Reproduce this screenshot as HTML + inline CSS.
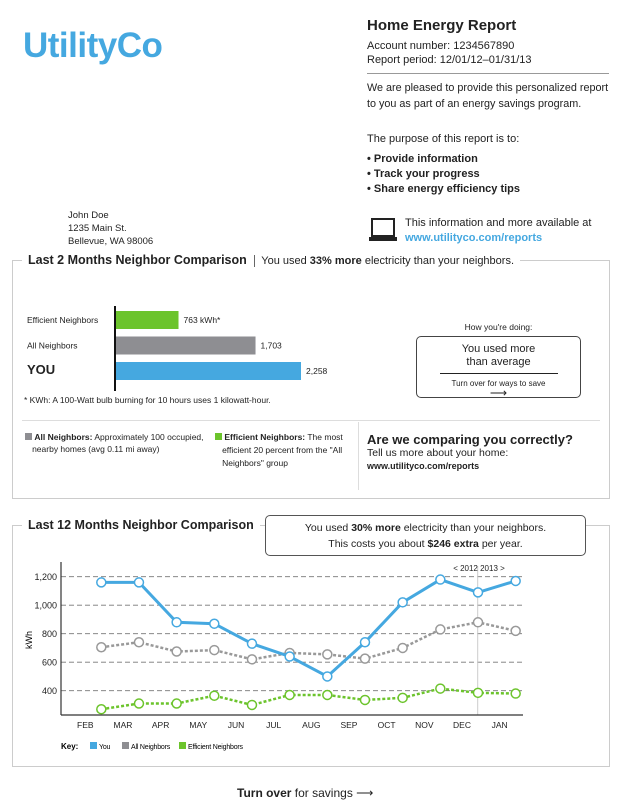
<!DOCTYPE html>
<html><head><meta charset="utf-8">
<style>
body{margin:0;width:621px;height:811px;background:#fff;font-family:"Liberation Sans",sans-serif;color:#222;position:relative;overflow:hidden}
.a{position:absolute;white-space:nowrap}
.panel{position:absolute;border:1px solid #ccc}
</style></head><body>
<div class="a" style="left:23px;top:26px;font-size:35px;font-weight:bold;color:#45a8e0;letter-spacing:-0.5px">UtilityCo</div>

<div class="a" style="left:367px;top:17px;font-size:15px;font-weight:bold">Home Energy Report</div>
<div class="a" style="left:367px;top:39px;font-size:11px;line-height:14px">Account number: 1234567890<br>Report period: 12/01/12–01/31/13</div>
<div class="a" style="left:367px;top:73px;width:242px;border-top:1px solid #999"></div>
<div class="a" style="left:367px;top:80px;font-size:10.8px;line-height:16px">We are pleased to provide this personalized report<br>to you as part of an energy savings program.</div>
<div class="a" style="left:367px;top:133px;font-size:11px">The purpose of this report is to:</div>
<div class="a" style="left:367px;top:152px;font-size:11px;font-weight:bold;line-height:15px">• Provide information<br>• Track your progress<br>• Share energy efficiency tips</div>
<svg class="a" style="left:368px;top:217px" width="32" height="28"><rect x="4" y="2" width="22" height="17" fill="none" stroke="#222" stroke-width="2"/><rect x="1" y="20" width="28" height="4" fill="#222"/></svg>
<div class="a" style="left:405px;top:216px;font-size:11px;line-height:15px">This information and more available at<br><span style="color:#45a8e0;font-weight:bold">www.utilityco.com/reports</span></div>
<div class="a" style="left:68px;top:209px;font-size:9.5px;line-height:13px">John Doe<br>1235 Main St.<br>Bellevue, WA 98006</div>

<!-- Panel 1 -->
<div class="panel" style="left:12px;top:260px;width:596px;height:237px"></div>
<div class="a" style="left:22px;top:252px;background:#fff;padding:0 6px;font-size:12.5px;line-height:16px"><b>Last 2 Months Neighbor Comparison</b> <span style="border-left:1px solid #666;margin-left:4px;padding-left:6px;font-size:11px">You used <b>33% more</b> electricity than your neighbors.</span></div>
<svg class="a" style="left:0;top:0" width="621" height="811" id="bars"></svg>
<div class="a" style="left:24px;top:395px;font-size:8.5px">* KWh: A 100-Watt bulb burning for 10 hours uses 1 kilowatt-hour.</div>
<div class="a" style="left:22px;top:420px;width:578px;border-top:1px solid #ddd"></div>
<div class="a" style="left:358px;top:422px;height:68px;border-left:1px solid #ddd"></div>
<div class="a" style="left:25px;top:431px;font-size:8.5px;line-height:12px"><span style="display:inline-block;width:7px;height:7px;background:#8e8e92"></span> <b>All Neighbors:</b> Approximately 100 occupied,<br>&nbsp;&nbsp;&nbsp;nearby homes (avg 0.11 mi away)</div>
<div class="a" style="left:215px;top:431px;font-size:8.5px;line-height:13px"><span style="display:inline-block;width:7px;height:7px;background:#6cc42c"></span> <b>Efficient Neighbors:</b> The most<br>&nbsp;&nbsp;&nbsp;efficient 20 percent from the "All<br>&nbsp;&nbsp;&nbsp;Neighbors" group</div>
<div class="a" style="left:367px;top:432px;font-size:13px;font-weight:bold">Are we comparing you correctly?</div>
<div class="a" style="left:367px;top:447px;font-size:10.5px">Tell us more about your home:</div>
<div class="a" style="left:367px;top:461px;font-size:9px;font-weight:bold">www.utilityco.com/reports</div>
<div class="a" style="left:416px;width:165px;text-align:center;top:322px;font-size:8.5px">How you're doing:</div>
<div class="a" style="left:416px;top:336px;width:163px;height:60px;border:1px solid #444;border-radius:5px;text-align:center">
<div style="font-size:11px;line-height:13px;margin-top:6px">You used more<br>than average</div>
<div style="width:118px;border-top:1px solid #222;margin:4px auto 0"></div>
<div style="font-size:8px;margin-top:5px">Turn over for ways to save</div>
<div style="font-size:12px;line-height:10px">⟶</div></div>

<!-- Panel 2 -->
<div class="panel" style="left:12px;top:525px;width:596px;height:240px"></div>
<div class="a" style="left:22px;top:518px;background:#fff;padding:0 6px;font-size:12.5px;font-weight:bold">Last 12 Months Neighbor Comparison</div>
<div class="a" style="left:265px;top:515px;width:321px;height:41px;border:1px solid #555;border-radius:5px;background:#fff;text-align:center;font-size:10.5px;line-height:16px;padding-top:4px;box-sizing:border-box">You used <b>30% more</b> electricity than your neighbors.<br>This costs you about <b>$246 extra</b> per year.</div>
<svg class="a" style="left:0;top:0" width="621" height="811" id="lines"></svg>
<div class="a" style="left:237px;top:786px;font-size:12px"><b>Turn over</b> for savings ⟶</div>

<script>
const barCats=["Efficient Neighbors","All Neighbors","YOU"];
const barVals=[763,1703,2258];
const barLabels=["763 kWh*","1,703","2,258"];
const months=["FEB","MAR","APR","MAY","JUN","JUL","AUG","SEP","OCT","NOV","DEC","JAN"];
const youVals=[1160,1160,880,870,730,640,500,740,1020,1180,1090,1170];
const allVals=[705,740,675,685,620,665,655,625,700,830,880,820];
const effVals=[270,310,310,365,300,370,370,335,350,415,385,380];
const yTicks=[400,600,800,1000,1200];
const NS="http://www.w3.org/2000/svg";
function mk(svg,t,at,txt){const e=document.createElementNS(NS,t);for(const k in at)e.setAttribute(k,at[k]);if(txt!=null)e.textContent=txt;svg.appendChild(e);return e;}
// bars
const B=document.getElementById('bars');
const bx=v=>116+v*(185/2258);
const barCols=["#6cc42c","#8e8e92","#45a8e0"];
barVals.forEach((v,i)=>{const y=311+i*25.5;
const r=mk(B,'rect',{x:116,y:y,width:bx(v)-116,height:18,fill:barCols[i]});


const l=mk(B,'text',{x:27,y:y+12,'font-size':i==2?13:8.5,'font-weight':i==2?'bold':'normal',fill:'#222'},barCats[i]);


const t=mk(B,'text',{x:bx(v)+5,y:y+12,'font-size':8.5,fill:'#222'},barLabels[i]);

});
mk(B,'line',{x1:115,x2:115,y1:306,y2:391,stroke:'#111','stroke-width':2});
// lines
const L=document.getElementById('lines');
const yv=v=>690.7-(v-400)*(28.5/200);
const xp=i=>101.3+i*37.67;
yTicks.forEach(t=>{mk(L,'line',{x1:61,x2:523,y1:yv(t),y2:yv(t),stroke:'#777','stroke-dasharray':'5,3','stroke-width':0.8});
const tx=mk(L,'text',{x:57,y:yv(t)+3.5,'text-anchor':'end','font-size':9,fill:'#222'},t.toLocaleString('en-US'));

});
mk(L,'line',{x1:477.7,x2:477.7,y1:566,y2:715,stroke:'#ccc','stroke-width':1});
mk(L,'text',{x:479,y:571,'font-size':8,fill:'#222','text-anchor':'middle'},'< 2012  2013 >');
mk(L,'line',{x1:61,x2:61,y1:562,y2:715,stroke:'#333','stroke-width':1.2});
mk(L,'line',{x1:61,x2:523,y1:715,y2:715,stroke:'#333','stroke-width':1.2});
const yl=mk(L,'text',{x:0,y:0,'font-size':9,transform:'translate(32,640) rotate(-90)','text-anchor':'middle'},'kWh');


months.forEach((m,i)=>{const t=mk(L,'text',{x:xp(i)-16,y:728,'font-size':8.5,'text-anchor':'middle',fill:'#222'},m);

});
function series(vals,col,dash,w,name){const p=mk(L,'polyline',{points:vals.map((v,i)=>xp(i)+','+yv(v)).join(' '),fill:'none',stroke:col,'stroke-width':w,'stroke-dasharray':dash});


vals.forEach((v,i)=>{const c=mk(L,'circle',{cx:xp(i),cy:yv(v),r:4.5,fill:'#fff',stroke:col,'stroke-width':1.5});

});}
series(allVals,'#999','3,2',2.5,'all-neighbors');
series(effVals,'#6cc42c','3,2',2.5,'efficient-neighbors');
series(youVals,'#45a8e0','none',3,'you');
// key
const K=[["You","#45a8e0",90],["All Neighbors","#8e8e92",122],["Efficient Neighbors","#6cc42c",179]];
mk(L,'text',{x:61,y:749,'font-size':8,'font-weight':'bold'},'Key:');
K.forEach(k=>{const r=mk(L,'rect',{x:k[2],y:742,width:7,height:7,fill:k[1]});


const t=mk(L,'text',{x:k[2]+9,y:749,'font-size':7,'letter-spacing':'-0.2'},k[0]);

});
</script>
</body></html>
